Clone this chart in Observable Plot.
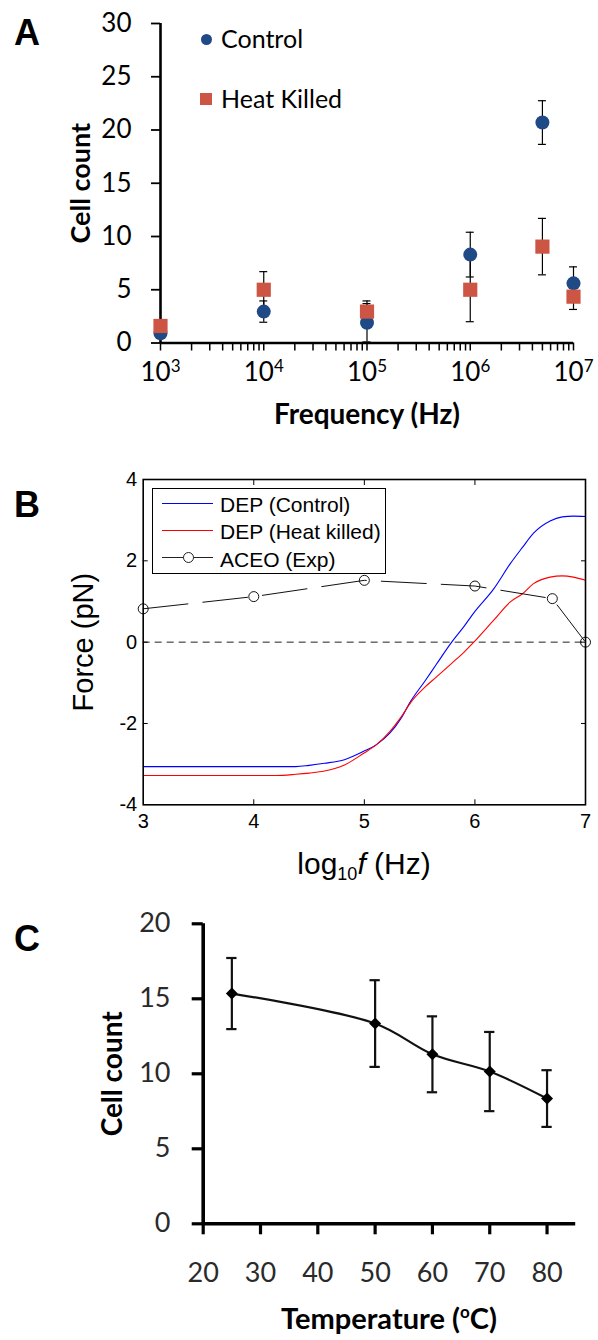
<!DOCTYPE html>
<html><head><meta charset="utf-8">
<script src="https://cdn.jsdelivr.net/npm/d3@7"></script>
<script src="https://cdn.jsdelivr.net/npm/@observablehq/plot@0.6"></script>
<style>
body{margin:0;background:#fff;}
#root{position:relative;width:598px;height:1340px;overflow:hidden;background:#fff;}
.panel{position:absolute;left:0;}
.letter{position:absolute;font:bold 36px "Liberation Sans",Arial,sans-serif;line-height:36px;color:#000;}
.t{position:absolute;white-space:nowrap;color:#000;}
</style></head><body><div id="root"></div>
<script>
// ---------- Panel A data ----------
const freqA = [1e3, 1e4, 1e5, 1e6, 5e6, 1e7];
const controlMean = [0.9, 2.95, 1.9, 8.3, 20.7, 5.6];
const controlErr = [0.3, 1.0, 1.8, 2.1, 2.05, 1.55];
const heatMean = [1.6, 5.0, 2.95, 5.0, 9.05, 4.35];
const heatErr = [0.4, 1.7, 1.0, 3.0, 2.65, 1.2];
const yTicksA = [0, 5, 10, 15, 20, 25, 30];
const majorTicksA = [1e3, 1e4, 1e5, 1e6, 1e7];
const minorTicksA = [];
for (const dec of [1e3, 1e4, 1e5, 1e6]) for (const k of [2,3,4,5,6,7,8,9]) minorTicksA.push(k*dec);

// ---------- Panel B data ----------
const aceoLogF = [3, 4, 5, 6, 6.7, 7];
const aceoForce = [0.82, 1.12, 1.52, 1.38, 1.07, 0];
const depLogF   = [3, 4.2, 4.38, 4.5, 4.64, 4.82, 4.99, 5.11, 5.23, 5.33, 5.42, 5.55, 5.65, 5.79, 5.9, 5.99, 6.17, 6.32, 6.43, 6.53, 6.68, 6.79, 6.89, 7.0];
const depControl = [-3.06, -3.06, -3.06, -3.03, -2.98, -2.89, -2.69, -2.52, -2.24, -1.88, -1.45, -0.95, -0.55, 0, 0.38, 0.72, 1.31, 1.93, 2.33, 2.68, 2.98, 3.08, 3.10, 3.09];
const depHeat    = [-3.28, -3.28, -3.25, -3.22, -3.17, -3.02, -2.74, -2.52, -2.2, -1.85, -1.48, -1.1, -0.86, -0.52, -0.25, 0, 0.54, 0.99, 1.19, 1.44, 1.60, 1.63, 1.60, 1.52];
const xTicksB = [3, 4, 5, 6, 7];
const yTicksB = [-4, -2, 0, 2, 4];

// ---------- Panel C data ----------
const temps = [25, 50, 60, 70, 80];
const countC = [15.35, 13.35, 11.3, 10.15, 8.35];
const errC = [2.37, 2.89, 2.53, 2.64, 1.89];
const xTicksC = [20, 30, 40, 50, 60, 70, 80];
const yTicksC = [0, 5, 10, 15, 20];

const root = document.getElementById("root");
const plain = d => String(d).replace("\u2212", "-");

// ================= Panel A =================
const dataA = freqA.map((f, i) => ({f, c: controlMean[i], ce: controlErr[i], h: heatMean[i], he: heatErr[i]}));
const capA = 1.093;
const plotA = Plot.plot({
  width: 598, height: 440,
  marginLeft: 160, marginRight: 25, marginTop: 23, marginBottom: 97.5,
  style: {fontFamily: "Lato, sans-serif", fontSize: "26px", color: "#000", background: "transparent", overflow: "visible"},
  x: {type: "log", domain: [1e3, 1e7]},
  y: {domain: [0, 30]},
  marks: [
    Plot.axisY({ticks: yTicksA, tickSize: 9, tickPadding: 20, strokeWidth: 1.8, label: null, tickFormat: plain}),
    Plot.axisX({ticks: majorTicksA, tickSize: 8, tickPadding: 12, strokeWidth: 1.5, label: null,
      tickFormat: d => String(Math.round(Math.log10(d)))}),
    Plot.axisX({ticks: minorTicksA, tickSize: 8, strokeWidth: 1.5, fill: "none", label: null}),
    Plot.ruleX([1e3], {strokeWidth: 2.6}),
    Plot.ruleY([0], {strokeWidth: 2.6}),
    // error bars
    Plot.ruleX(dataA, {x: "f", y1: d => d.c - d.ce, y2: d => d.c + d.ce, stroke: "#000", strokeWidth: 1.2}),
    Plot.ruleY(dataA, {y: d => d.c - d.ce, x1: d => d.f / capA, x2: d => d.f * capA, strokeWidth: 1.2}),
    Plot.ruleY(dataA, {y: d => d.c + d.ce, x1: d => d.f / capA, x2: d => d.f * capA, strokeWidth: 1.2}),
    Plot.ruleX(dataA, {x: "f", y1: d => d.h - d.he, y2: d => d.h + d.he, stroke: "#000", strokeWidth: 1.2}),
    Plot.ruleY(dataA, {y: d => d.h - d.he, x1: d => d.f / capA, x2: d => d.f * capA, strokeWidth: 1.2}),
    Plot.ruleY(dataA, {y: d => d.h + d.he, x1: d => d.f / capA, x2: d => d.f * capA, strokeWidth: 1.2}),
    Plot.dot(dataA, {x: "f", y: "c", r: 7, fill: "#1f4a85", symbol: "circle"}),
    Plot.dot(dataA, {x: "f", y: "h", r: 8, fill: "#cc5544", symbol: "square"}),
    Plot.text(["Frequency (Hz)"], {frameAnchor: "bottom", textAnchor: "middle", lineAnchor: "middle", dy: 72.5, fontWeight: "bold", fontSize: 28}),
    Plot.text(["Cell count"], {frameAnchor: "left", textAnchor: "middle", lineAnchor: "middle", rotate: -90, dx: -79, fontWeight: "bold", fontSize: 27})
  ]
});
plotA.classList.add("panel");
plotA.style.top = "0px";
root.appendChild(plotA);
d3.select(plotA).selectAll('g[aria-label="x-axis tick label"] text').each(function() {
  const e = this.textContent;
  const t = d3.select(this);
  t.text(null);
  t.append("tspan").text("10");
  t.append("tspan").attr("dy", "-9px").attr("font-size", "17px").text(e);
});

// ================= Panel B =================
const depData = depLogF.map((x, i) => ({x, c: depControl[i], h: depHeat[i]}));
const aceoData = aceoLogF.map((x, i) => ({x, y: aceoForce[i]}));
const plotB = Plot.plot({
  width: 598, height: 440,
  marginLeft: 142.7, marginRight: 13, marginTop: 29, marginBottom: 85.7,
  style: {fontFamily: "'Liberation Sans', Arial, sans-serif", fontSize: "20px", color: "#000", background: "transparent", overflow: "visible"},
  x: {domain: [3, 7]},
  y: {domain: [-4, 4]},
  marks: [
    Plot.ruleY([0], {stroke: "#222", strokeWidth: 1, strokeDasharray: "7,5"}),
    Plot.line(depData, {x: "x", y: "c", stroke: "#0000ff", strokeWidth: 1.1, curve: "monotone-x"}),
    Plot.line(depData, {x: "x", y: "h", stroke: "#ff0000", strokeWidth: 1.1, curve: "monotone-x"}),
    Plot.line(aceoData, {x: "x", y: "y", stroke: "#111", strokeWidth: 1, strokeDasharray: "45,15"}),
    Plot.dot(aceoData, {x: "x", y: "y", r: 5, stroke: "#111", fill: "none", strokeWidth: 1}),
    Plot.frame({stroke: "#000", strokeWidth: 1.6}),
    Plot.axisX({ticks: xTicksB, tickSize: 0, tickPadding: 9, label: null, tickFormat: plain}),
    Plot.axisY({ticks: yTicksB, tickSize: 0, tickPadding: 6, label: null, tickFormat: plain}),
    Plot.axisX({ticks: xTicksB.slice(1, -1), anchor: "bottom", tickSize: 5, insetBottom: 5, fill: "none", label: null}),
    Plot.axisX({ticks: xTicksB.slice(1, -1), anchor: "top", tickSize: 5, insetTop: 5, fill: "none", label: null}),
    Plot.axisY({ticks: yTicksB.slice(1, -1), anchor: "left", tickSize: 5, insetLeft: 5, fill: "none", label: null}),
    Plot.axisY({ticks: yTicksB.slice(1, -1), anchor: "right", tickSize: 5, insetRight: 5, fill: "none", label: null}),
    Plot.text(["Force (pN)"], {frameAnchor: "left", textAnchor: "middle", lineAnchor: "middle", rotate: -90, dx: -59, fontSize: 29})
  ]
});
plotB.classList.add("panel");
plotB.style.top = "450px";
root.appendChild(plotB);

// ================= Panel C =================
const dataC = temps.map((t, i) => ({t, c: countC[i], e: errC[i]}));
const capC = 0.9;
const plotC = Plot.plot({
  width: 598, height: 460,
  marginLeft: 202.7, marginRight: 22.8, marginTop: 43.3, marginBottom: 116.7,
  style: {fontFamily: "Lato, sans-serif", fontSize: "27px", color: "#000", background: "transparent", overflow: "visible"},
  x: {domain: [20, 85]},
  y: {domain: [0, 20]},
  marks: [
    Plot.axisY({ticks: yTicksC, tickSize: 11, tickPadding: 21.7, strokeWidth: 3.2, fill: "#2a2a2a", label: null, tickFormat: plain}),
    Plot.axisX({ticks: xTicksC, tickSize: 11, tickPadding: 28, strokeWidth: 3.2, fill: "#2a2a2a", label: null, tickFormat: plain}),
    Plot.ruleX([20], {strokeWidth: 3.6}),
    Plot.ruleY([0], {strokeWidth: 3.6}),
    Plot.line(dataC, {x: "t", y: "c", curve: "catmull-rom", stroke: "#111", strokeWidth: 2.2}),
    Plot.ruleX(dataC, {x: "t", y1: d => d.c - d.e, y2: d => d.c + d.e, stroke: "#111", strokeWidth: 2.2}),
    Plot.ruleY(dataC, {y: d => d.c - d.e, x1: d => d.t - capC, x2: d => d.t + capC, stroke: "#111", strokeWidth: 2.2}),
    Plot.ruleY(dataC, {y: d => d.c + d.e, x1: d => d.t - capC, x2: d => d.t + capC, stroke: "#111", strokeWidth: 2.2}),
    Plot.dot(dataC, {x: "t", y: "c", symbol: "diamond2", r: 5.4, fill: "#000"}),
    Plot.text(["Cell count"], {frameAnchor: "left", textAnchor: "middle", lineAnchor: "middle", rotate: -90, dx: -90, fontWeight: "bold", fontSize: 28})
  ]
});
plotC.classList.add("panel");
plotC.style.top = "880px";
root.appendChild(plotC);

// ================= HTML overlays (letters, legends, titles) =================
function addDiv(html, css) {
  const d = document.createElement("div");
  d.className = "t";
  d.innerHTML = html;
  Object.assign(d.style, css);
  root.appendChild(d);
  return d;
}
// panel letters
for (const [txt, top] of [["A", 15.3], ["B", 487], ["C", 921]]) {
  const d = document.createElement("div");
  d.className = "letter";
  d.textContent = txt;
  d.style.left = "14px";
  d.style.top = top + "px";
  root.appendChild(d);
}
// Legend A
addDiv("", {left: "200.5px", top: "33.5px", width: "11px", height: "11px", borderRadius: "50%", background: "#1f4a85"});
addDiv("Control", {left: "221px", top: "26px", font: "25px Lato, sans-serif", lineHeight: "25px"});
addDiv("", {left: "200px", top: "93px", width: "12px", height: "12px", background: "#cc5544"});
addDiv("Heat Killed", {left: "221px", top: "86px", font: "25px Lato, sans-serif", lineHeight: "25px"});

// Legend B
addDiv("", {left: "152px", top: "487.7px", width: "233.7px", height: "86.3px", border: "1.5px solid #000", boxSizing: "border-box", background: "#fff"});
const legB = [
  {label: "DEP (Control)", color: "#0000ff", y: 503.3, top: 493.9},
  {label: "DEP (Heat killed)", color: "#ff0000", y: 530.7, top: 521.2},
  {label: "ACEO (Exp)", color: "#222", y: 557.3, top: 548.9, circle: true}
];
for (const L of legB) {
  addDiv("", {left: "162px", top: (L.y - 0.6) + "px", width: "51px", height: "0px", borderTop: "1.2px solid " + L.color});
  if (L.circle) addDiv("", {left: "182.5px", top: (L.y - 5.5) + "px", width: "9px", height: "9px", border: "1px solid #222", borderRadius: "50%", background: "#fff"});
  addDiv(L.label, {left: "220px", top: L.top + "px", font: "21px 'Liberation Sans', Arial, sans-serif", lineHeight: "21px"});
}
// B x title
addDiv('log<span style="font-size:18px;position:relative;top:6px">10</span><i>f</i> (Hz)',
  {left: "0px", width: "728px", textAlign: "center", top: "849px", font: "30px 'Liberation Sans', Arial, sans-serif", lineHeight: "30px"});
// C x title
addDiv('Temperature (<span style="font-size:17px;position:relative;top:-11px">o</span>C)',
  {left: "0px", width: "778px", textAlign: "center", top: "1303px", font: "bold 29px Lato, sans-serif", lineHeight: "29px"});
</script>
</body></html>
